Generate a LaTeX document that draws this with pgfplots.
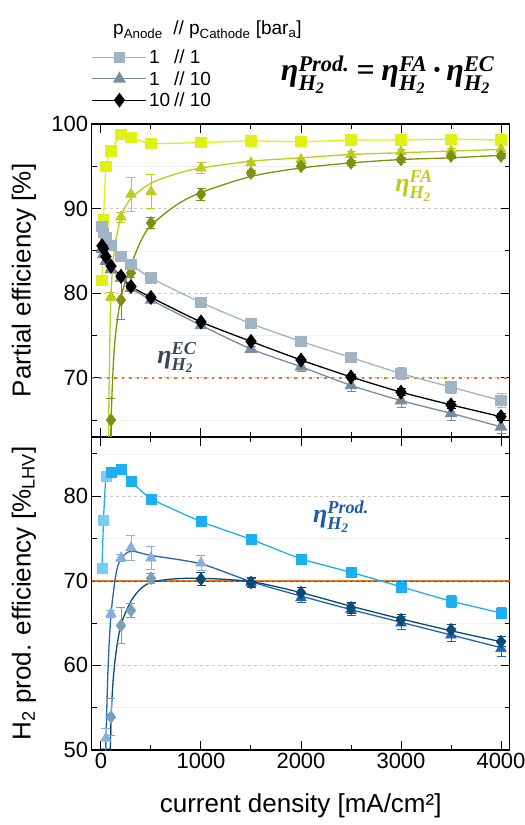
\documentclass[border=0pt]{standalone}
\usepackage{fontspec}
\setmainfont{Liberation Sans}
\newfontfamily\lserif{Liberation Serif}
\usepackage{amsmath}
\usepackage{pgfplots}
\pgfplotsset{compat=1.18}
\newcommand\bi[1]{\text{\lserif\bfseries\itshape #1}}
\newcommand\etaa[1]{\bi{η}^{\bi{#1}}_{\bi{H}_{\bi{2}}}}

\definecolor{faS}{RGB}{225,240,20}
\definecolor{faT}{RGB}{185,205,25}
\definecolor{faD}{RGB}{125,145,15}
\definecolor{ecS}{RGB}{160,180,195}
\definecolor{ecT}{RGB}{120,140,158}
\definecolor{prS}{RGB}{30,175,240}
\definecolor{prSl}{RGB}{120,205,245}
\definecolor{prT}{RGB}{35,100,180}
\definecolor{prTl}{RGB}{135,175,220}
\definecolor{prD}{RGB}{10,75,115}
\definecolor{prDl}{RGB}{120,160,185}
\definecolor{orng}{RGB}{230,120,40}
\definecolor{faLab}{RGB}{185,205,30}
\definecolor{ecLab}{RGB}{55,70,85}
\definecolor{prLab}{RGB}{25,90,170}

\pgfplotsset{
  panel/.style={
    scale only axis, width=418pt, height=313pt,
    xmin=-93, xmax=4087,
    xtick={0,1000,2000,3000,4000},
    minor xtick={500,1500,2500,3500},
    tick align=inside,
    major tick length=9pt, minor tick length=5pt,
    every tick/.style={black, line width=1pt},
    axis line style={black, line width=1.3pt},
    ymajorgrids, yminorgrids,
    major grid style={gray!45, dashed, line width=0.6pt},
    minor grid style={gray!12, line width=0.6pt},
    tick label style={font=\fontsize{22}{22}\selectfont},
    /pgf/number format/assume math mode=true,
    /pgf/number format/1000 sep={},
    label style={font=\fontsize{26}{26}\selectfont},
  },
  errs/.style={error bars/y dir=both, error bars/y explicit,
    error bars/error bar style={line width=0.9pt, solid},
    error bars/error mark options={rotate=90, mark size=4.5pt, line width=0.9pt, solid}},
  sq/.style={mark=square*, mark size=5pt},
  tri/.style={mark=triangle*, mark size=6.2pt},
  dia/.style={mark=diamond*, mark size=6.5pt},
}

\begin{document}
\begin{tikzpicture}
\path[use as bounding box] (-91.7pt,-75pt) rectangle (433.3pt,750pt);

% ---------------- bottom panel ----------------
\begin{axis}[panel, at={(0pt,0pt)}, anchor=south west,
  ymin=50, ymax=87, ytick={50,60,70,80}, minor ytick={55,65,75,85},
  xlabel={current density [mA/cm²]},
  xlabel style={at={(axis description cs:0.5,-0.179)}, anchor=center},
  ylabel={H\textsubscript{2} prod. efficiency [\%\textsubscript{LHV}]},
  ylabel style={at={(axis description cs:-0.162,0.5)}, anchor=center},
]
\addplot[orng, line width=2.4pt, forget plot] coordinates {(-93,70) (4087,70)};
\addplot[brown!60!black, line width=0.6pt, dash pattern=on 3pt off 3pt, forget plot] coordinates {(-93,70) (4087,70)};

% product, 1 // 1
\addplot[prS, line width=1.3pt, smooth, tension=0.3, forget plot] table[x=x,y=y] {
x y
10 71.5
25 77.2
50 82.4
100 82.8
200 83.2
300 81.8
500 79.7
1000 77.0
1500 74.9
2000 72.6
2500 71.0
3000 69.3
3500 67.6
4000 66.2
};
\addplot[prSl, only marks, sq, errs, forget plot] table[x=x,y=y,y error=e] {
x y e
10 71.5 0
25 77.2 0
50 82.4 0
};
\addplot[prS, only marks, sq, errs, forget plot] table[x=x,y=y,y error=e] {
x y e
100 82.8 0
200 83.2 0
300 81.8 0
500 79.7 0
1000 77.0 0
1500 74.9 0
2000 72.6 0
2500 71.0 0.4
3000 69.3 0.7
3500 67.6 0.7
4000 66.2 0.7
};

% product, 1 // 10
\addplot[prT, line width=1.3pt, smooth, tension=0.5, forget plot] table[x=x,y=y] {
x y
42 48
50 51.4
70 59.5
100 66.0
150 70.8
200 72.6
300 73.5
500 73.0
1000 72.0
1500 69.9
2000 68.2
2500 66.6
3000 65.1
3500 63.6
4000 62.1
};
\addplot[prTl, only marks, tri, errs, forget plot] table[x=x,y=y,y error=e] {
x y e
50 51.4 1.2
100 66.1 0.4
200 72.7 0.4
300 73.9 1.5
500 72.7 1.4
1000 72.1 0.9
};
\addplot[prT, only marks, tri, errs, forget plot] table[x=x,y=y,y error=e] {
x y e
1500 69.8 0.5
2000 68.0 0.6
2500 66.6 0.7
3000 65.0 0.8
3500 63.6 0.8
4000 62.0 0.9
};

% product, 10 // 10
\addplot[prD, line width=1.3pt, smooth, tension=0.5, forget plot] table[x=x,y=y] {
x y
90 48
100 53.5
120 58
150 61.5
200 64.8
300 67.6
400 69.1
500 69.8
700 70.2
1000 70.3
1500 69.9
2000 68.6
2500 67.0
3000 65.5
3500 64.1
4000 62.8
};
\addplot[prDl, only marks, dia, errs, forget plot] table[x=x,y=y,y error=e] {
x y e
100 53.9 2.2
200 64.7 2.1
300 66.5 0.8
500 70.3 0.6
};
\addplot[prD, only marks, dia, errs, forget plot] table[x=x,y=y,y error=e] {
x y e
1000 70.2 0.8
1500 69.8 0.6
2000 68.6 0.6
2500 66.8 0.6
3000 65.4 0.6
3500 64.2 0.6
4000 62.8 0.6
};

\node[text=prLab, font=\fontsize{26}{26}\selectfont] at (axis cs:2400,77.6) {$\etaa{Prod.}$};
\end{axis}

% ---------------- top panel ----------------
\begin{axis}[panel, at={(0pt,313pt)}, anchor=south west,
  ymin=63, ymax=100, ytick={70,80,90,100}, minor ytick={65,75,85,95},
  xticklabels={},
  ylabel={Partial efficiency [\%]},
  ylabel style={at={(axis description cs:-0.162,0.5)}, anchor=center},
  legend style={at={(0,1)}, anchor=south west, draw=none, fill=none,
    font=\fontsize{19}{19}\selectfont, inner sep=0pt, row sep=2pt, yshift=14pt},
  legend cell align=left,
  legend image code/.code={\draw[mark repeat=2, mark phase=2, #1] plot coordinates {(0pt,0pt) (27pt,0pt) (54pt,0pt)};},
]
\addlegendimage{ecS, line width=1.2pt, sq}
\addlegendentry{\makebox[25pt][l]{1}// 1}
\addlegendimage{ecT, line width=1.2pt, tri}
\addlegendentry{\makebox[25pt][l]{1}// 10}
\addlegendimage{black, line width=1.2pt, dia}
\addlegendentry{\makebox[25pt][l]{10}// 10}

\addplot[orng, line width=2pt, dash pattern=on 2.5pt off 5pt, forget plot] coordinates {(-93,70) (4087,70)};

% FA, 1 // 1
\addplot[faS, line width=1.3pt, smooth, tension=0.3, sq, forget plot] table[x=x,y=y] {
x y
10 81.5
25 88.7
50 95.0
100 96.8
200 98.8
300 98.4
500 97.7
1000 97.8
1500 98.0
2000 97.9
2500 98.1
3000 98.1
3500 98.2
4000 98.1
};
% FA, 1 // 10
\addplot[faT, line width=1.3pt, smooth, tension=0.5, forget plot] table[x=x,y=y] {
x y
72 60
85 72
100 79.8
130 84.8
200 89.0
300 91.2
500 93.0
750 94.1
1000 94.8
1500 95.6
2000 96.0
2500 96.4
3000 96.6
3500 96.8
4000 97.0
};
\addplot[faT, only marks, tri, errs, forget plot] table[x=x,y=y,y error=e] {
x y e
100 79.6 0.5
200 89.0 0.6
300 91.7 2.0
500 92.0 2.0
1000 94.8 0.7
1500 95.4 0.3
2000 95.8 0.3
2500 96.4 0.3
3000 96.7 0.3
3500 96.8 0.3
4000 97.0 0.6
};
% FA, 10 // 10
\addplot[faD, line width=1.3pt, smooth, tension=0.5, forget plot] table[x=x,y=y] {
x y
95 60
100 64.5
115 69.5
140 74.5
200 79.5
300 83.3
400 86.2
500 88.0
750 90.4
1000 91.9
1500 93.8
2000 94.8
2500 95.4
3000 95.8
3500 96.0
4000 96.3
};
\addplot[faD, only marks, dia, errs, forget plot] table[x=x,y=y,y error=e] {
x y e
100 65.0 2.5
200 79.2 2.3
300 82.4 0.5
500 88.3 0.7
1000 91.7 0.7
1500 94.2 0.3
2000 95.0 0.3
2500 95.4 0.3
3000 95.8 0.3
3500 96.2 0.3
4000 96.2 0.3
};

% EC, 1 // 1
\addplot[ecS, line width=1.3pt, smooth, tension=0.4, sq, errs, forget plot] table[x=x,y=y,y error=e] {
x y e
10 87.9 0
25 87.2 0
50 86.6 0
100 85.6 0
200 84.3 0
300 83.4 0
500 81.8 0
1000 78.9 0
1500 76.4 0
2000 74.3 0
2500 72.4 0.5
3000 70.5 0.7
3500 68.9 0.7
4000 67.3 0.8
};
% EC, 1 // 10
\addplot[ecT, line width=1.3pt, smooth, tension=0.4, tri, errs, forget plot] table[x=x,y=y,y error=e] {
x y e
10 85.2 0
25 84.6 0
50 83.8 0
100 82.8 0
200 81.8 0
300 80.6 0
500 79.2 0
1000 76.2 0
1500 73.4 0.3
2000 71.3 0.5
2500 69.1 0.7
3000 67.3 0.8
3500 65.8 0.8
4000 64.2 0.8
};
% EC, 10 // 10
\addplot[black, line width=1.3pt, smooth, tension=0.4, dia, errs, forget plot] table[x=x,y=y,y error=e] {
x y e
10 85.6 0
25 85.3 0
50 84.3 0
100 83.2 0
200 82.0 0
300 80.8 0
500 79.5 0
1000 76.6 0
1500 74.3 0
2000 72.1 0
2500 70.1 0.3
3000 68.3 0.4
3500 66.8 0.4
4000 65.4 0.4
};

\node[text=faLab, font=\fontsize{26}{26}\selectfont] at (axis cs:3130,92.7) {$\etaa{FA}$};
\node[text=ecLab, font=\fontsize{26}{26}\selectfont] at (axis cs:760,72.4) {$\etaa{EC}$};
\end{axis}

\node[anchor=west, font=\fontsize{19}{19}\selectfont] at (18pt,720pt) {p\textsubscript{Anode} \ // p\textsubscript{Cathode} [bar\textsubscript{a}]};
\node[font=\fontsize{32}{32}\selectfont] at (296pt,675pt) {$\etaa{Prod.} \mathrel{\bi{=}} \etaa{FA} \mathbin{\bi{·}} \etaa{EC}$};
\end{tikzpicture}
\end{document}
